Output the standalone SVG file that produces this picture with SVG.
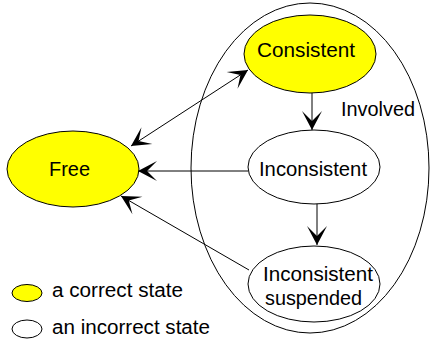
<svg xmlns="http://www.w3.org/2000/svg" width="430" height="345" viewBox="0 0 430 345">
<style>
.node{stroke:#000;stroke-width:1}
.yel{fill:#ffff00}
.wht{fill:#fff}
.lbl{font-family:"Liberation Sans",Arial,sans-serif;font-size:19.5px;fill:#000}
.edge{stroke:#000;stroke-width:1;fill:none}
</style>
<defs>
<marker id="ah" viewBox="-20 -11 21 22" refX="0" refY="0" markerWidth="21" markerHeight="22" markerUnits="userSpaceOnUse" orient="auto-start-reverse">
<path d="M0,0 L-19,-10 L-9,0 L-19,10 Z" fill="#000"/>
</marker>
</defs>
<rect width="430" height="345" fill="#fff"/>
<g id="involved">
<ellipse class="node" cx="310" cy="168" rx="119" ry="165" fill="none"/>
<text class="lbl" x="341" y="116" textLength="74" lengthAdjust="spacingAndGlyphs">Involved</text>
</g>
<g id="edges">
<line class="edge" x1="312" y1="93" x2="312" y2="130" marker-end="url(#ah)"/>
<line class="edge" x1="317" y1="203" x2="317" y2="245" marker-end="url(#ah)"/>
<line class="edge" x1="131" y1="146" x2="248" y2="70" marker-start="url(#ah)" marker-end="url(#ah)"/>
<line class="edge" x1="248" y1="171" x2="138" y2="171" marker-end="url(#ah)"/>
<line class="edge" x1="249" y1="270" x2="121" y2="196" marker-end="url(#ah)"/>
</g>
<g id="consistent">
<ellipse class="node yel" cx="310" cy="54" rx="66" ry="39"/>
<text class="lbl" x="257" y="57" textLength="98" lengthAdjust="spacingAndGlyphs">Consistent</text>
</g>
<g id="inconsistent">
<ellipse class="node wht" cx="314" cy="167" rx="66" ry="37"/>
<text class="lbl" x="259" y="176" textLength="108" lengthAdjust="spacingAndGlyphs">Inconsistent</text>
</g>
<g id="suspended">
<ellipse class="node wht" cx="314" cy="284" rx="66" ry="38"/>
<text class="lbl" x="263" y="281" textLength="110" lengthAdjust="spacingAndGlyphs">Inconsistent</text>
<text class="lbl" x="265" y="305" textLength="97" lengthAdjust="spacingAndGlyphs">suspended</text>
</g>
<g id="free">
<ellipse class="node yel" cx="73" cy="169" rx="66" ry="38"/>
<text class="lbl" x="49" y="176" textLength="41" lengthAdjust="spacingAndGlyphs">Free</text>
</g>
<g id="legend">
<ellipse class="node yel" cx="27" cy="293" rx="15" ry="8.5"/>
<text class="lbl" x="52" y="297" textLength="131" lengthAdjust="spacingAndGlyphs">a correct state</text>
<ellipse class="node wht" cx="27" cy="329" rx="15" ry="9"/>
<text class="lbl" x="52" y="334" textLength="158" lengthAdjust="spacingAndGlyphs">an incorrect state</text>
</g>
</svg>
